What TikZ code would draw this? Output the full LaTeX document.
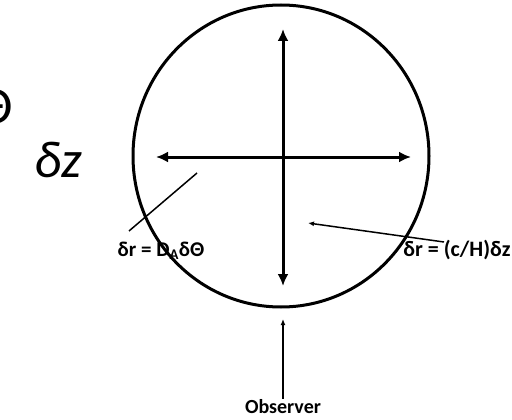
\documentclass[tikz,border=0pt]{standalone}
\usepackage{fontspec}
\setmainfont{Carlito}
\usetikzlibrary{arrows.meta}
\tikzset{
  rim/.style={line width=3pt},
  axis/.style={line width=3pt,{Latex[length=12pt,width=11pt]}-{Latex[length=12pt,width=11pt]}},
  pointer/.style={line width=1.5pt},
  lbl/.style={font=\bfseries\fontsize{21}{23}\selectfont,inner sep=1pt},
  big/.style={font=\fontsize{52}{56}\selectfont,inner sep=0pt}
}
\begin{document}
\begin{tikzpicture}[x=1pt,y=-1pt]
\useasboundingbox (0,0) rectangle (512,420);
\clip (0,0) rectangle (512,420);
\coordinate (c) at (281,156);
\draw[rim] (c) ellipse [x radius=148, y radius=151];
% axes
\coordinate (top) at (283,29);
\coordinate (bot) at (283,286);
\coordinate (lft) at (156,157);
\coordinate (rgt) at (411,157);
\draw[axis] (top) -- (bot);
\draw[axis] (lft) -- (rgt);
% partial big text at left edge
\node[big,anchor=east] (theta) at (13,107) {Θ};
\node[big,anchor=west] (dz) at (34,160) {\itshape δz};
% labels
\node[lbl] (la) at (161,251) {δr = D\textsubscript{A}δΘ};
\node[lbl,font=\bfseries\fontsize{22}{24}\selectfont] (lc) at (457,250) {δr = (c/H)δz};
\node[lbl,font=\bfseries\fontsize{20}{22}\selectfont] (obs) at (283,407) {Observer};
% pointers
\coordinate (pa) at (197,173);
\coordinate (pae) at (129,231);
\draw[pointer] (pae) -- (pa);
\coordinate (pc) at (308,223);
\coordinate (pce) at (444,242);
\draw[pointer,-{Latex[length=6pt,width=5pt]}] (pce) -- (pc);
\coordinate (po) at (283,319);
\draw[pointer,-{Latex[length=6pt,width=5pt]}] (obs.north) -- (po);
\end{tikzpicture}
\end{document}
